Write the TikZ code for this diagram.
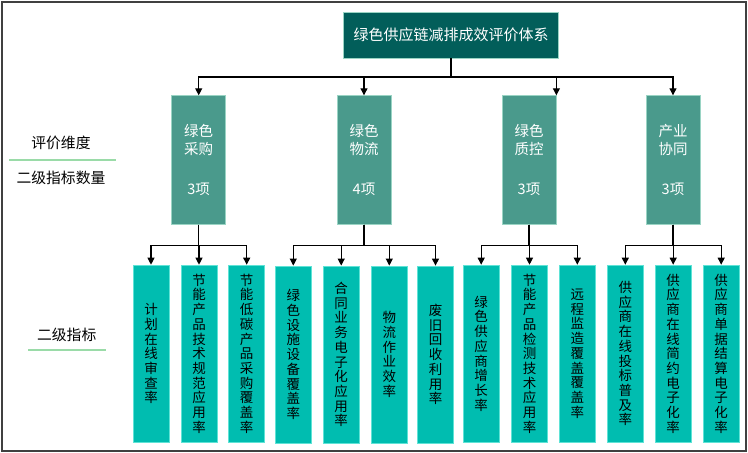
\documentclass[tikz,border=0pt]{standalone}
\usepackage{fontspec}
\newfontfamily\cjk{Noto Sans CJK SC}
\usetikzlibrary{arrows.meta}
\definecolor{topfill}{HTML}{025E5A}
\definecolor{midfill}{HTML}{4A9A8C}
\definecolor{midline}{HTML}{9AD4C4}
\definecolor{leaffill}{HTML}{00BDB0}
\definecolor{leafline}{HTML}{5FE3D6}
\definecolor{sepgreen}{HTML}{9ADBA8}
\definecolor{framegray}{HTML}{404040}
\tikzset{
  topbox/.style={draw=midline, line width=0.8pt, fill=topfill, text=white, minimum width=215pt, minimum height=46pt, inner sep=0pt, font=\cjk\fontsize{15}{18}\selectfont},
  midbox/.style={draw=midline, line width=0.8pt, fill=midfill, text=white, minimum width=54pt, minimum height=128.6pt, inner sep=0pt, align=center, font=\cjk\fontsize{14.5}{17.6}\selectfont},
  leafbox/.style={draw=leafline, line width=0.8pt, fill=leaffill, text=black, minimum width=36pt, minimum height=177pt, inner sep=0pt, align=center, font=\cjk\fontsize{13.5}{14.7}\selectfont},
  sidelabel/.style={text=black, inner sep=0pt, font=\cjk\fontsize{14.8}{17}\selectfont},
  sepline/.style={draw=sepgreen, line width=1.5pt},
  arr/.style={draw=black, line width=1.1pt, -{Triangle[length=7pt,width=7pt]}},
  conn/.style={draw=black, line width=1.1pt}
}
\begin{document}
\begin{tikzpicture}[x=1pt,y=-1pt]
\useasboundingbox (0,0) rectangle (748,453);
\draw[framegray, line width=2pt] (1.5,1.5) rectangle (746,451);

% top
\node[topbox] (top) at (451,35) {绿色供应链减排成效评价体系};
\coordinate (h0) at (451,77);
\coordinate (hb) at (0,245.7);

% second level
\node[midbox] (b1) at (198.7,160) {绿色\\采购\\[23pt]3项};
\node[midbox] (b2) at (364,160) {绿色\\物流\\[23pt]4项};
\node[midbox] (b3) at (529,160) {绿色\\质控\\[23pt]3项};
\node[midbox] (b4) at (673,160) {产业\\协同\\[23pt]3项};

% leaves
\node[leafbox] (l1) at (151,353.6) {计\\划\\在\\线\\审\\查\\率};
\node[leafbox] (l2) at (199,353.6) {节\\能\\产\\品\\技\\术\\规\\范\\应\\用\\率};
\node[leafbox] (l3) at (246.7,353.6) {节\\能\\低\\碳\\产\\品\\采\\购\\覆\\盖\\率};
\node[leafbox] (l4) at (293.3,354.5) {绿\\色\\设\\施\\设\\备\\覆\\盖\\率};
\node[leafbox] (l5) at (341.2,354.5) {合\\同\\业\\务\\电\\子\\化\\应\\用\\率};
\node[leafbox] (l6) at (389.3,354.5) {物\\流\\作\\业\\效\\率};
\node[leafbox] (l7) at (435.5,354.5) {废\\旧\\回\\收\\利\\用\\率};
\node[leafbox] (l8) at (481.2,353.6) {绿\\色\\供\\应\\商\\增\\长\\率};
\node[leafbox] (l9) at (529.5,353.6) {节\\能\\产\\品\\检\\测\\技\\术\\应\\用\\率};
\node[leafbox] (l10) at (577.3,353.6) {远\\程\\监\\造\\覆\\盖\\覆\\盖\\率};
\node[leafbox] (l11) at (625.3,353.6) {供\\应\\商\\在\\线\\投\\标\\普\\及\\率};
\node[leafbox] (l12) at (673.2,353.6) {供\\应\\商\\在\\线\\简\\约\\电\\子\\化\\率};
\node[leafbox] (l13) at (721.2,353.6) {供\\应\\商\\单\\据\\结\\算\\电\\子\\化\\率};

% side labels
\node[sidelabel] (s1) at (61,143) {评价维度};
\node[sidelabel] (s2) at (61,178.3) {二级指标数量};
\node[sidelabel] (s3) at (66.7,335) {二级指标};
\coordinate (s1a) at (9,160);
\coordinate (s1b) at (116,160);
\coordinate (s3a) at (28,350);
\coordinate (s3b) at (106,350);
\draw[sepline] (s1a) -- (s1b);
\draw[sepline] (s3a) -- (s3b);

% connectors top -> second level
\draw[conn] (top.south) -- (h0);
\draw[arr] (h0) -| (b1.north);
\draw[arr] (h0) -| (b2.north);
\draw[arr] (h0) -| (b3.north east);
\draw[arr] (h0) -| (b4.north);

% second level -> leaves
\foreach \b/\l in {b1/l1,b1/l2,b1/l3,b2/l4,b2/l5,b2/l6,b2/l7,b3/l8,b3/l9,b3/l10,b4/l11,b4/l12,b4/l13}{
  \draw[arr] (\b.south) -- (\b.south |- hb) -| (\l.north);
}
\end{tikzpicture}
\end{document}
